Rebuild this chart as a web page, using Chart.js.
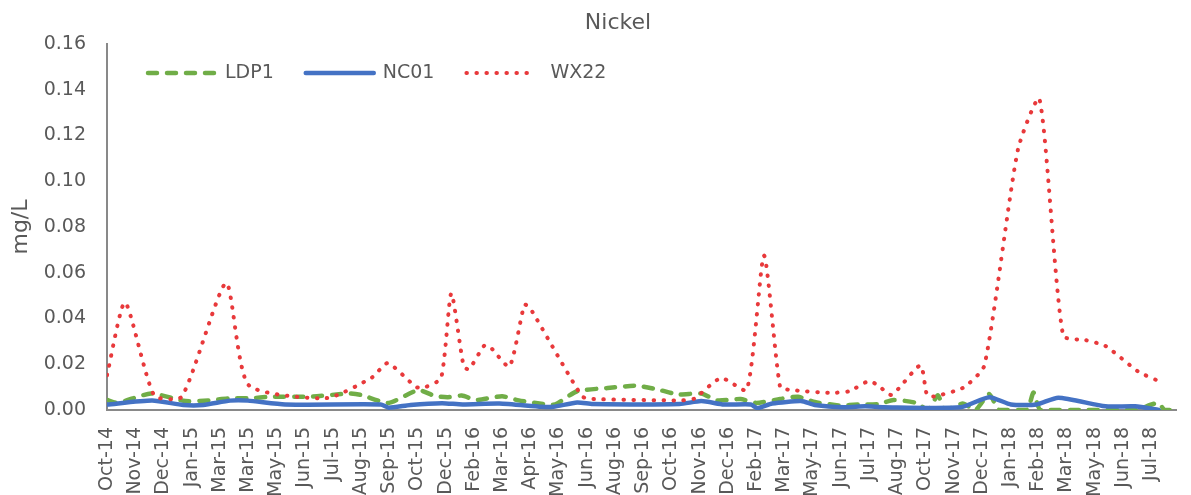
<!DOCTYPE html>
<html>
<head>
<meta charset="utf-8">
<title>Nickel</title>
<script src="https://cdn.jsdelivr.net/npm/chart.js@4.4.1/dist/chart.umd.min.js"></script>
<style>
  html, body { margin: 0; padding: 0; background: #ffffff; }
  #chartContainer { width: 1191px; height: 495px; }
</style>
</head>
<body>
<div id="chartContainer"><canvas id="line-chart" width="1191" height="495"></canvas></div>
<script>
// x values are in label steps: 0 = first label (Oct-14), 37 = last label (Jul-18)
var tickLabels = ['Oct-14', 'Nov-14', 'Dec-14', 'Jan-15', 'Mar-15', 'Mar-15', 'May-15', 'Jun-15',
    'Jul-15', 'Aug-15', 'Sep-15', 'Oct-15', 'Dec-15', 'Feb-16', 'Mar-16', 'Apr-16', 'May-16',
    'Jun-16', 'Aug-16', 'Sep-16', 'Oct-16', 'Nov-16', 'Dec-16', 'Feb-17', 'Mar-17', 'May-17',
    'Jun-17', 'Jul-17', 'Aug-17', 'Oct-17', 'Nov-17', 'Dec-17', 'Jan-18', 'Feb-18', 'Mar-18',
    'May-18', 'Jun-18', 'Jul-18'];

var ldp1X = [0, 0.37, 1.56, 2.78, 3.59, 4.36, 5.06, 5.79, 7.19, 8.58, 9.00, 9.98, 11.03, 11.62,
    12.08, 12.57, 13.09, 14.00, 14.59, 15.54, 15.89, 16.66, 17.74, 18.79, 19.56, 20.25, 21.06,
    21.62, 22.45, 23.01, 23.85, 24.48, 25.08, 25.95, 26.65, 27.35, 27.87, 28.67, 29.09, 29.44,
    29.69, 30.32, 30.77, 31.26, 31.61, 32.59, 32.83, 33.08, 34.69, 36.43, 37.24, 37.48, 37.86];
var ldp1Y = [0.0044, 0.0031, 0.0072, 0.0039, 0.0042, 0.0051, 0.0051, 0.0058, 0.0058, 0.0072,
    0.0066, 0.0031, 0.0087, 0.0061, 0.0056, 0.0063, 0.0044, 0.0060, 0.0042, 0.0025, 0.0025,
    0.0082, 0.0096, 0.0106, 0.0088, 0.0068, 0.0072, 0.0042, 0.0048, 0.0031, 0.0048, 0.0058,
    0.0035, 0.0020, 0.0024, 0.0026, 0.0044, 0.0031, 0, 0.0064, 0, 0.0028, 0, 0.0070, 0, 0,
    0.0076, 0, 0, 0, 0.0031, 0, 0];

var nc01X = [0, 1.60, 2.71, 3.41, 4.36, 4.99, 6.31, 9.70, 9.98, 10.75, 11.87, 12.60, 13.90,
    15.40, 15.82, 16.66, 17.21, 20.29, 21.06, 21.86, 22.81, 23.05, 23.57, 24.59, 25.08, 26.12,
    26.86, 27.52, 30.25, 31.26, 32.03, 32.94, 33.71, 35.38, 36.43, 37.27];
var nc01Y = [0.0024, 0.0041, 0.0022, 0.0022, 0.0041, 0.0041, 0.0024, 0.0024, 0.0010, 0.0022,
    0.0030, 0.0024, 0.0028, 0.0014, 0.0014, 0.0033, 0.0026, 0.0026, 0.0039, 0.0024, 0.0024,
    0.0008, 0.0028, 0.0039, 0.0022, 0.0012, 0.0016, 0.0012, 0.0012, 0.0056, 0.0024, 0.0024,
    0.0054, 0.0016, 0.0016, 0];

var wx22X = [0, 0.64, 1.67, 2.65, 4.22, 5.01, 7.78, 9.39, 9.95, 10.96, 11.28, 11.84, 12.20,
    12.64, 12.83, 13.37, 13.58, 14.26, 14.79, 14.98, 16.83, 17.22, 20.36, 20.81, 21.76, 22.67,
    23.28, 23.85, 24.20, 25.60, 26.30, 26.96, 27.28, 27.80, 28.82, 29.06, 29.34, 30.36, 31.09,
    32.28, 33.04, 33.88, 34.69, 35.38, 36.54, 37.20];
var wx22Y = [0.0152, 0.0470, 0.0064, 0.0058, 0.0555, 0.0110, 0.0052, 0.0142, 0.0205, 0.0100,
    0.0100, 0.0140, 0.0510, 0.0190, 0.0178, 0.0282, 0.0275, 0.0190, 0.0460, 0.0448, 0.0060,
    0.0048, 0.0042, 0.0050, 0.0140, 0.0088, 0.0675, 0.0100, 0.0088, 0.0075, 0.0082, 0.0125,
    0.0112, 0.0066, 0.0195, 0.0064, 0.0060, 0.0099, 0.0195, 0.1140, 0.1360, 0.0325, 0.0305,
    0.0280, 0.0168, 0.0130];

function toPoints(xs, ys) {
    return xs.map(function(x, i) { return { x: x, y: ys[i] }; });
}

Chart.defaults.font.family = '"DejaVu Sans", sans-serif';
Chart.defaults.color = '#595959';

// title and legend drawn by hand so they sit where the original has them
var titleAndLegend = {
    id: 'titleAndLegend',
    afterDraw: function(chart) {
        var c = chart.ctx;
        c.save();
        c.fillStyle = '#595959';
        c.textBaseline = 'middle';
        c.textAlign = 'center';
        c.font = '22px "DejaVu Sans"';
        c.fillText('Nickel', 618, 23);

        c.font = '19px "DejaVu Sans"';
        c.textAlign = 'left';
        var x = 148, y = 73;
        chart.data.datasets.forEach(function(ds) {
            c.save();
            c.strokeStyle = ds.borderColor;
            c.lineWidth = ds.borderWidth;
            c.lineCap = ds.borderCapStyle || 'butt';
            c.setLineDash(ds.borderDash || []);
            c.beginPath();
            c.moveTo(x, y);
            c.lineTo(x + 68, y);
            c.stroke();
            c.restore();
            x += 68 + (ds.label === 'WX22' ? 16 : 9);
            c.fillText(ds.label, x, y);
            x += c.measureText(ds.label).width + 32;
        });
        c.restore();
    }
};

var ctx = document.getElementById('line-chart').getContext('2d');
var chart = new Chart(ctx, {
    type: 'line',
    data: {
        datasets: [{
            label: 'LDP1',
            data: toPoints(ldp1X, ldp1Y),
            borderColor: '#70AD47',
            borderWidth: 4.5,
            borderDash: [9, 10],
            borderCapStyle: 'round',
            order: 3
        }, {
            label: 'NC01',
            data: toPoints(nc01X, nc01Y),
            borderColor: '#4472C4',
            borderWidth: 4.5,
            borderCapStyle: 'round',
            order: 2
        }, {
            label: 'WX22',
            data: toPoints(wx22X, wx22Y),
            borderColor: '#E8393B',
            borderWidth: 4,
            borderDash: [0.5, 9.5],
            borderCapStyle: 'round',
            order: 1
        }]
    },
    options: {
        responsive: false,
        animation: false,
        layout: { padding: { top: 44, left: 0, right: 0, bottom: 0 } },
        elements: {
            point: { radius: 0, hoverRadius: 0 },
            line: { tension: 0.2, borderJoinStyle: 'round', fill: false }
        },
        plugins: {
            legend: { display: false },
            title: { display: false },
            tooltip: { enabled: false }
        },
        scales: {
            x: {
                type: 'linear',
                min: 0,
                max: 37.88,
                grid: { display: false, drawTicks: false },
                border: { display: true, color: '#898989', width: 2 },
                ticks: {
                    stepSize: 1,
                    autoSkip: false,
                    includeBounds: false,
                    minRotation: 90,
                    maxRotation: 90,
                    padding: 17,
                    color: '#595959',
                    font: { size: 19 },
                    callback: function(v) {
                        var i = Math.round(v);
                        return (Math.abs(v - i) < 0.001 && tickLabels[i]) ? tickLabels[i] : '';
                    }
                },
                afterFit: function(scale) { scale.height = 85; }
            },
            y: {
                min: 0,
                max: 0.16,
                grid: { display: false, drawTicks: false },
                border: { display: true, color: '#898989', width: 2 },
                ticks: {
                    stepSize: 0.02,
                    padding: 21,
                    color: '#595959',
                    font: { size: 19 },
                    callback: function(v) { return v.toFixed(2); }
                },
                title: {
                    display: true,
                    text: 'mg/L',
                    color: '#595959',
                    font: { size: 22 },
                    padding: { top: 8, bottom: 0 }
                },
                afterFit: function(scale) { scale.width = 107; }
            }
        }
    },
    plugins: [titleAndLegend]
});
</script>
</body>
</html>
